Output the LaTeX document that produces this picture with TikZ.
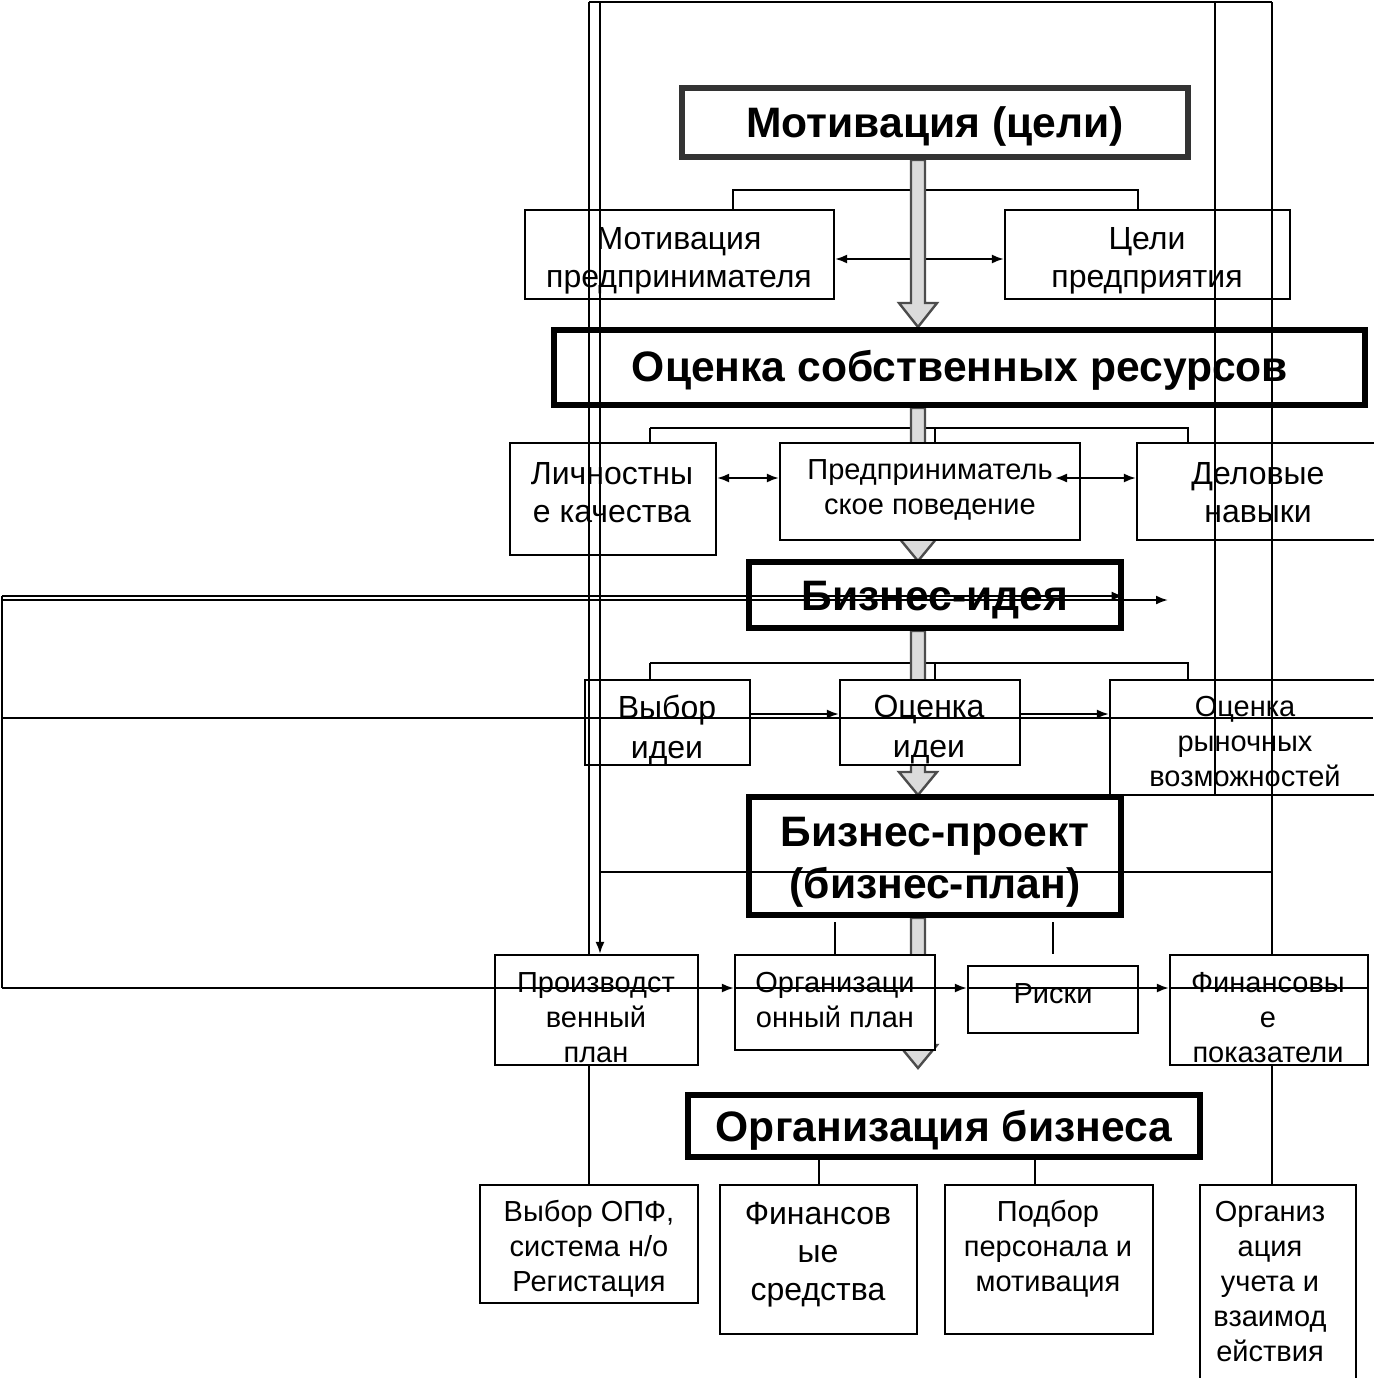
\documentclass[tikz,border=0pt]{standalone}
\usepackage{fontspec}
\setmainfont{Liberation Sans}
\usetikzlibrary{arrows.meta,fit}
\newcommand\grayarr[4]{\draw[grayarrow] (#1-7,#2) -- (#1+7,#2) -- (#1+7,#3) -- (#1+19,#3) -- (#1,#4) -- (#1-19,#3) -- (#1-7,#3) -- cycle;}
\begin{document}
\begin{tikzpicture}[x=0.5pt,y=-0.5pt,
  ln/.style={line width=1pt},
  box/.style={draw, line width=1.1pt, fill=white, inner sep=0pt},
  bigbox/.style={draw, line width=2.6pt, fill=white, inner sep=0pt},
  txtS/.style={align=center, font=\fontsize{14.5}{17.5}\selectfont, inner sep=0pt},
  txtM/.style={align=center, font=\fontsize{16}{19}\selectfont, inner sep=0pt},
  txtL/.style={align=center, font=\fontsize{16}{20}\selectfont, inner sep=0pt},
  txtB/.style={align=center, font=\fontsize{21.3}{26}\selectfont\bfseries, inner sep=0pt},
  tip/.style={ln, -{Latex[length=6pt,width=4.5pt]}},
  dtip/.style={ln, {Latex[length=6pt,width=4.5pt]}-{Latex[length=6pt,width=4.5pt]}},
  grayarrow/.style={fill=black!14, draw=black!70, line width=1.2pt}
]
\useasboundingbox (0,0) rectangle (1373,1378);
\fill[white] (0,0) rectangle (1373,1378);

% ---------- boxes (positions) ----------
\path
 node[bigbox, draw=black!80, fit={(682,88) (1188,157)}] (mc) {}
 node[box, fit={(525,210) (834,299)}] (mp) {}
 node[box, fit={(1005,210) (1290,299)}] (cp) {};

% brackets and top double arrow (under the grey arrows)
\coordinate (b1) at (733,190); \coordinate (b2) at (1138,190);
\draw[ln] (mp.north -| b1) -- (b1) -- (b2) -- (cp.north -| b2);
\coordinate (a259) at (0,259);
\draw[dtip] (mp.east |- a259) -- (cp.west |- a259);
\coordinate (b3) at (650,428); \coordinate (b4) at (1188,428); \coordinate (b5) at (935,428);
\coordinate (b6) at (650,663); \coordinate (b7) at (1188,663); \coordinate (b8) at (935,663);
\draw[ln] (b3) -- ++(0,15);
\draw[ln] (b3) -- (b4) -- ++(0,15);
\draw[ln] (b5) -- ++(0,15);
\draw[ln] (b6) -- ++(0,17);
\draw[ln] (b6) -- (b7) -- ++(0,17);
\draw[ln] (b8) -- ++(0,17);

% grey block arrows
\grayarr{918}{160}{303}{327}
\grayarr{918}{408}{538}{561}
\grayarr{918}{631}{772}{795}
\grayarr{918}{918}{1045}{1068}

% redraw boxes on top of grey arrows
\node[bigbox, draw=black!80, fit={(682,88) (1188,157)}] (mc) {};
\node[box, fit={(525,210) (834,299)}] (mp) {};
\node[box, fit={(1005,210) (1290,299)}] (cp) {};
\node[bigbox, fit={(554,330) (1365,405)}] (osr) {};
\node[box, fit={(510,443) (716,555)}] (lk) {};
\node[box, fit={(780,443) (1080,540)}] (pp) {};
\node[box, fit={(1137,443) (1377,540)}] (dn) {};
\node[bigbox, fit={(749,562) (1121,628)}] (bi) {};
\node[box, fit={(585,680) (750,765)}] (vi) {};
\node[box, fit={(840,680) (1020,765)}] (oi) {};
\node[box, fit={(1110,680) (1377,795)}] (orv) {};
\node[bigbox, fit={(749,797) (1121,915)}] (bp) {};
\node[box, fit={(495,955) (698,1065)}] (prp) {};
\node[box, fit={(735,955) (935,1050)}] (orp) {};
\node[box, fit={(968,966) (1138,1033)}] (ri) {};
\node[box, fit={(1170,955) (1368,1065)}] (fp) {};
\node[bigbox, fit={(688,1095) (1200,1157)}] (ob) {};
\node[box, fit={(480,1185) (698,1303)}] (opf) {};
\node[box, fit={(720,1185) (917,1334)}] (fs) {};
\node[box, fit={(945,1185) (1153,1334)}] (pm) {};
\node[box, fit={(1200,1185) (1356,1382)}] (ou) {};

% ---------- texts ----------
\node[txtB] (t-mc) at (935,126) {Мотивация (цели)};
\node[txtM] (t-mp) at (679,261) {Мотивация\\предпринимателя};
\node[txtM] (t-cp) at (1147,261) {Цели\\предприятия};
\node[txtB] (t-osr) at (960,370) {Оценка собственных ресурсов};
\node[txtM] (t-lk) at (612,493) {Личностны\\е качества};
\node[txtS] (t-pp) at (930,490) {Предприниматель\\ское поведение};
\node[txtM] (t-dn) at (1258,493) {Деловые\\навыки};
\node[txtB] (t-bi) at (935,600) {Бизнес-идея};
\node[txtL] (t-vi) at (667,730) {Выбор\\идеи};
\node[txtL] (t-oi) at (929,730) {Оценка\\идеи};
\node[txtS] (t-orv) at (1245,742) {Оценка\\рыночных\\возможностей};
\node[txtB] (t-bp) at (935,862) {Бизнес-проект\\(бизнес-план)};
\node[txtS] (t-prp) at (596,1018) {Производст\\венный\\план};
\node[txtS] (t-orp) at (835,1000) {Организаци\\онный план};
\node[txtS] (t-ri) at (1053,994) {Риски};
\node[txtS] (t-fp) at (1268,1018) {Финансовы\\е\\показатели};
\node[txtB] (t-ob) at (944,1130) {Организация бизнеса};
\node[txtS] (t-opf) at (589,1249) {Выбор ОПФ,\\система н/о\\Регистация};
\node[txtM] (t-fs) at (818,1255) {Финансов\\ые\\средства};
\node[txtS] (t-pm) at (1048,1249) {Подбор\\персонала и\\мотивация};
\node[txtS] (t-ou) at (1270,1281) {Организ\\ация\\учета и\\взаимод\\ействия};

% ---------- connectors ----------
\coordinate (a478) at (0,478); \coordinate (d1) at (1055,478);
\draw[dtip] (lk.east |- a478) -- (pp.west |- a478);
\draw[dtip] (d1) -- (dn.west |- a478);
\coordinate (a714) at (0,714);
\draw[tip] (vi.east |- a714) -- (oi.west |- a714);
\draw[tip] (oi.east |- a714) -- (orv.west |- a714);
\coordinate (s922) at (0,922); \coordinate (s954) at (0,954);
\draw[ln] (orp.north |- s922) -- (orp.north);
\draw[ln] (ri.north |- s922) -- (ri.north |- s954);
\coordinate (c1035) at (1035,0);
\draw[ln] (ob.south -| fs.north) -- (fs.north);
\draw[ln] (ob.south -| c1035) -- (pm.north -| c1035);

% ---------- frame lines (on top) ----------
\coordinate (f1) at (589,2); \coordinate (f2) at (600,2);
\coordinate (f3) at (1215,2); \coordinate (f4) at (1272,2);
\draw[ln] (f1) -- (f4);
\draw[ln] (f1) -- (f1 |- prp.north);
\draw[ln] (prp.south -| f1) -- (f1 |- opf.north);
\draw[tip] (f2) -- (f2 |- prp.north);
\draw[ln] (f3) -- (f3 |- orv.south);
\draw[ln] (f4) -- (f4 |- fp.north);
\draw[ln] (fp.south -| f4) -- (f4 |- ou.north);
\coordinate (h872) at (600,872);
\draw[ln] (h872) -- (h872 -| f4);

% ---------- left loops ----------
\coordinate (L1) at (2,596); \coordinate (L2) at (2,600);
\coordinate (L3) at (2,718); \coordinate (L4) at (2,988);
\coordinate (e2) at (1168,600); \coordinate (e3) at (1373,718);
\draw[tip] (L1) -- (L1 -| bi.east);
\draw[tip] (L2) -- (e2);
\draw[ln] (L1) -- (L4);
\draw[ln] (L3) -- (e3);
\draw[tip] (L4) -- (L4 -| orp.west);
\draw[tip] (L4 -| orp.west) -- (L4 -| ri.west);
\draw[tip] (L4 -| ri.west) -- (L4 -| fp.west);
\draw[ln] (L4 -| fp.west) -- (L4 -| fp.east);
\end{tikzpicture}
\end{document}
